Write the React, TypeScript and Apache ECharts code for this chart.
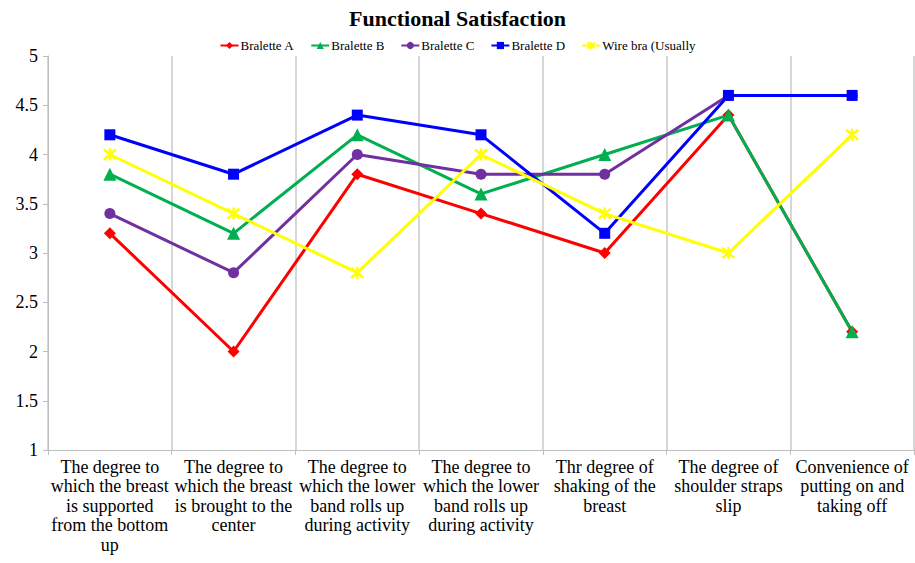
import React, { useEffect, useRef } from "react";
import * as echarts from "echarts";

const categories = [
  "The degree to\nwhich the breast\nis supported\nfrom the bottom\nup",
  "The degree to\nwhich the breast\nis brought to the\ncenter",
  "The degree to\nwhich the lower\nband rolls up\nduring activity",
  "The degree to\nwhich the lower\nband rolls up\nduring activity",
  "Thr degree of\nshaking of the\nbreast",
  "The degree of\nshoulder straps\nslip",
  "Convenience of\nputting on and\ntaking off",
];

const braletteA = [3.2, 2.0, 3.8, 3.4, 3.0, 4.4, 2.2];
const braletteB = [3.8, 3.2, 4.2, 3.6, 4.0, 4.4, 2.2];
const braletteC = [3.4, 2.8, 4.0, 3.8, 3.8, 4.6, 4.6];
const braletteD = [4.2, 3.8, 4.4, 4.2, 3.2, 4.6, 4.6];
const wireBra = [4.0, 3.4, 2.8, 4.0, 3.4, 3.0, 4.2];

const yTicks = { min: 1, max: 5, interval: 0.5 };

const FONT = "'Liberation Serif', 'Times New Roman', serif";
const STAR = "path://M0,0L10,10M10,0L0,10M5,-1L5,11";

export default function App() {
  const ref = useRef<HTMLDivElement>(null);
  useEffect(() => {
    if (!ref.current) return;
    const chart = echarts.init(ref.current, undefined, { renderer: "svg" });
    const mk = (name: string, data: number[], color: string, symbol: string, size: number, extra: any = {}) => ({
      name,
      type: "line",
      data,
      symbol,
      symbolSize: size,
      lineStyle: { color, width: 3 },
      itemStyle: { color, ...(extra.itemStyle || {}) },
      emphasis: { disabled: true },
    });
    chart.setOption({
      animation: false,
      textStyle: { fontFamily: FONT },
      title: {
        text: "Functional Satisfaction",
        left: "center",
        top: 2,
        textStyle: { fontFamily: FONT, fontSize: 22, fontWeight: "bold", color: "#000" },
      },
      legend: {
        top: 34,
        left: "center",
        itemWidth: 18,
        itemHeight: 9,
        itemGap: 16,
        textStyle: { fontFamily: FONT, fontSize: 13, color: "#000", padding: [0, 0, 0, -3] },
        data: ["Bralette A", "Bralette B", "Bralette C", "Bralette D", "Wire bra (Usually"],
      },
      grid: { left: 48, right: 1, top: 56, bottom: 113, containLabel: false },
      xAxis: {
        type: "category",
        data: categories,
        boundaryGap: true,
        axisLine: { show: true, lineStyle: { color: "#bfbfbf", width: 1 } },
        axisTick: { show: true, length: 5, lineStyle: { color: "#bfbfbf" } },
        splitLine: { show: true, lineStyle: { color: "#c8c8c8", width: 1.5 } },
        axisLabel: {
          interval: 0,
          margin: 7,
          fontFamily: FONT,
          fontSize: 18,
          lineHeight: 19.5,
          color: "#000",
          align: "center",
        },
      },
      yAxis: {
        type: "value",
        min: yTicks.min,
        max: yTicks.max,
        interval: yTicks.interval,
        axisLine: { show: true, lineStyle: { color: "#bfbfbf", width: 1 } },
        axisTick: { show: true, length: 5, lineStyle: { color: "#bfbfbf" } },
        splitLine: { show: false },
        axisLabel: { fontFamily: FONT, fontSize: 18, color: "#000", margin: 10 },
      },
      series: [
        mk("Bralette A", braletteA, "#ff0000", "diamond", 12),
        mk("Bralette B", braletteB, "#00b050", "triangle", 13),
        mk("Bralette C", braletteC, "#7030a0", "circle", 11),
        mk("Bralette D", braletteD, "#0000ff", "rect", 11),
        mk("Wire bra (Usually", wireBra, "#ffff00", STAR, 12, {
          itemStyle: { borderColor: "#ffff00", borderWidth: 2.5 },
        }),
      ],
    });
    return () => chart.dispose();
  }, []);
  return <div ref={ref} style={{ width: 915, height: 563, position: "absolute", left: 0, top: 0 }} />;
}
